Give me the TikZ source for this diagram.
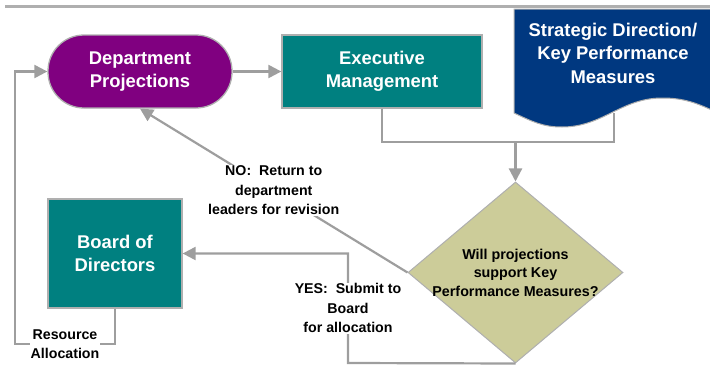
\documentclass[tikz,border=0pt]{standalone}
\usepackage{fontspec}
\setmainfont{Liberation Sans}
\usetikzlibrary{arrows.meta,shapes.geometric}

\definecolor{deptpurple}{RGB}{128,0,128}
\definecolor{boxteal}{RGB}{0,128,128}
\definecolor{docblue}{RGB}{0,56,128}
\definecolor{askkhaki}{RGB}{204,204,153}
\definecolor{flowgray}{RGB}{158,158,158}
\definecolor{edgegray}{RGB}{175,175,175}

\tikzset{
  boxtext/.style={font=\bfseries\fontsize{18.4}{23.5}\selectfont, text=white, align=center},
  boxedge/.style={draw=edgegray, line width=1.3pt},
  flow/.style={draw=flowgray, line width=2.2pt},
  flowarrow/.style={flow, -{Triangle[length=13pt,width=13pt]}},
  notetext/.style={font=\bfseries\fontsize{14.2}{19.5}\selectfont, align=center, fill=white, inner sep=1pt},
}

\begin{document}
\begin{tikzpicture}[x=1pt,y=-1pt]
  \useasboundingbox (0,0) rectangle (710,367);
  \draw[edgegray, line width=3pt] (5,6) -- (710,6);
  \node[boxtext, boxedge, fill=deptpurple, rounded corners=36pt, minimum width=184pt, minimum height=73pt] (dept) at (140,71.5) {Department\\Projections};
  \node[boxtext, boxedge, fill=boxteal, minimum width=200pt, minimum height=73pt] (exec) at (382,71.5) {Executive\\Management};
  \node[boxtext, boxedge, fill=boxteal, minimum width=134pt, minimum height=109pt] (board) at (115,253.5) {Board of\\Directors};
  \filldraw[fill=docblue, draw=edgegray, line width=1pt] (716,9) -- (514,9) -- (514,113) to[out=-25,in=180] (562,127) to[out=0,in=180] (662,98) to[out=0,in=155] (716,112) -- cycle;
  \node[boxtext] (strat) at (613,53) {Strategic Direction/\\Key Performance\\Measures};
  \coordinate (strat-foot) at (614,113);
  \node[diamond, boxedge, line width=1pt, fill=askkhaki, minimum width=215pt, minimum height=181pt, inner sep=0pt] (ask) at (515.5,272.5) {};
  \node[font=\bfseries\fontsize{14.3}{18.5}\selectfont, align=center] (ask-text) at (ask) {Will projections\\support Key\\Performance Measures?};
  \draw[flowarrow] (dept) -- (exec);
  \coordinate (join) at (515.5,142);
  \draw[flow] (exec.south) |- (join) -| (strat-foot);
  \draw[flowarrow] (join) -- (ask);
  \draw[flowarrow] (ask.west) -- node[notetext] {NO:\ \ Return to\\department\\leaders for revision} (dept.south);
  \coordinate (yes-turn) at (348,363);
  \draw[flowarrow] (ask.south) -- (yes-turn) |- node[pos=0.25, notetext] {YES:\ \ Submit to\\Board\\for allocation} (board.east);
  \coordinate (loop-corner) at (15,344);
  \draw[flowarrow] (board.south) |- node[pos=0.75, notetext] {Resource\\Allocation} (loop-corner) |- (dept.west);
\end{tikzpicture}
\end{document}
